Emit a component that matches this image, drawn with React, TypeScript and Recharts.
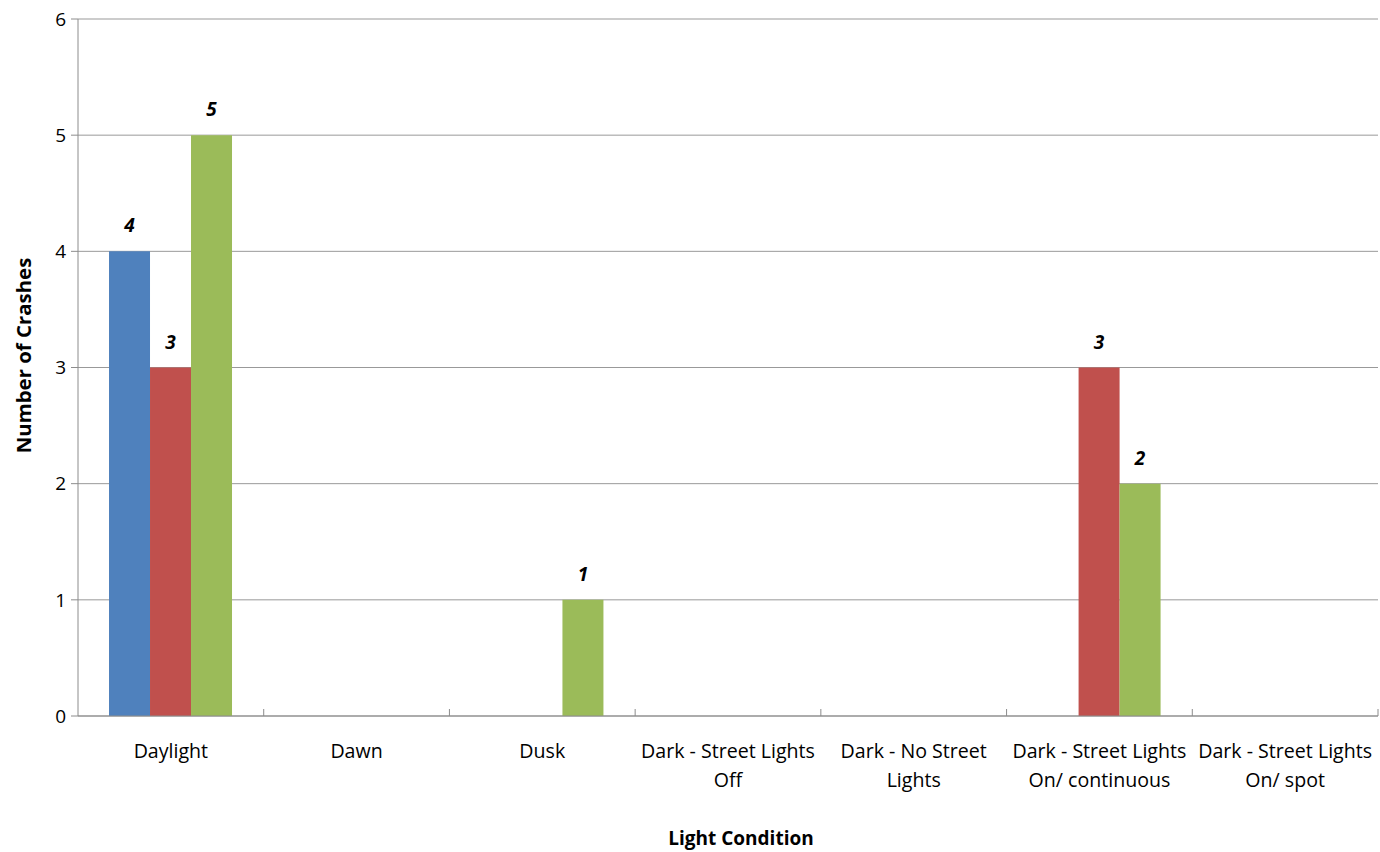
import React from 'react';
import { BarChart, Bar, XAxis, YAxis, CartesianGrid, LabelList } from 'recharts';

const categories = [
  'Daylight',
  'Dawn',
  'Dusk',
  'Dark - Street Lights\nOff',
  'Dark - No Street\nLights',
  'Dark - Street Lights\nOn/ continuous',
  'Dark - Street Lights\nOn/ spot',
];
const seriesNames = ['Series 1', 'Series 2', 'Series 3'];
const series1 = [4, 0, 0, 0, 0, 0, 0];
const series2 = [3, 0, 0, 0, 0, 3, 0];
const series3 = [5, 0, 1, 0, 0, 2, 0];
const yTicks = [0, 1, 2, 3, 4, 5, 6];
const colors = ['#4F81BD', '#C0504D', '#9BBB59'];

const data = categories.map((c, i) => ({
  category: c,
  s1: series1[i],
  s2: series2[i],
  s3: series3[i],
}));

const FONT = '"Open Sans", Lato, sans-serif';
const AXIS = '#8c8c8c';

const CategoryTick = (props: any) => {
  const { x, y, payload, width, visibleTicksCount } = props;
  const lines = String(payload.value).split('\n');
  const band = width && visibleTicksCount ? width / visibleTicksCount : 0;
  return (
    <g>
      {band > 0 && (
        <line x1={x + band / 2} x2={x + band / 2} y1={y - 7} y2={y} stroke={AXIS} strokeWidth={1} />
      )}
      {lines.map((l: string, i: number) => (
        <text
          key={i}
          x={x}
          y={y + 42 + i * 29}
          textAnchor="middle"
          fontFamily={FONT}
          fontSize={19.6}
          fill="#000"
        >
          {l}
        </text>
      ))}
    </g>
  );
};

const ValueLabel = (props: any) => {
  const { x, y, width, value } = props;
  if (!value) return null;
  return (
    <text
      x={x + width / 2}
      y={y - 19}
      textAnchor="middle"
      fontFamily={FONT}
      fontSize={19}
      fontWeight="bold"
      fontStyle="italic"
      fill="#000"
    >
      {value}
    </text>
  );
};

export default function App() {
  return (
    <div style={{ position: 'fixed', left: 0, top: 0, width: 1380, height: 852, background: '#fff', overflow: 'hidden' }}>
      <style>{`html,body{margin:0;padding:0;overflow:hidden;}`}</style>
      <BarChart
        width={1380}
        height={852}
        data={data}
        margin={{ top: 19, right: 2, bottom: 0, left: 0 }}
        barGap={0}
        barCategoryGap="16.7%"
      >
        <CartesianGrid vertical={false} stroke="#999" />
        <XAxis
          dataKey="category"
          height={136}
          interval={0}
          tickLine={false}
          tickSize={0}
          tickMargin={0}
          axisLine={{ stroke: AXIS }}
          tick={<CategoryTick />}
          label={{
            content: () => (
              <text
                x={741}
                y={845}
                textAnchor="middle"
                fontFamily={FONT}
                fontSize={19}
                fontWeight="bold"
                fill="#000"
              >
                Light Condition
              </text>
            ),
          }}
        />
        <YAxis
          width={78}
          domain={[0, 6]}
          ticks={yTicks}
          interval={0}
          tickSize={7}
          tickMargin={5}
          axisLine={{ stroke: AXIS }}
          tickLine={{ stroke: AXIS }}
          tick={{ fontFamily: FONT, fontSize: 19, fill: '#000' }}
          label={{
            content: (p: any) => {
              const vb = p.viewBox;
              const cy = vb.y + vb.height / 2 - 12;
              return (
                <text
                  x={31}
                  y={cy}
                  transform={`rotate(-90, 31, ${cy})`}
                  textAnchor="middle"
                  fontFamily={FONT}
                  fontSize={20.4}
                  fontWeight="bold"
                  fill="#000"
                >
                  Number of Crashes
                </text>
              );
            },
          }}
        />
        <Bar dataKey="s1" name={seriesNames[0]} fill={colors[0]} isAnimationActive={false}>
          <LabelList dataKey="s1" content={<ValueLabel />} />
        </Bar>
        <Bar dataKey="s2" name={seriesNames[1]} fill={colors[1]} isAnimationActive={false}>
          <LabelList dataKey="s2" content={<ValueLabel />} />
        </Bar>
        <Bar dataKey="s3" name={seriesNames[2]} fill={colors[2]} isAnimationActive={false}>
          <LabelList dataKey="s3" content={<ValueLabel />} />
        </Bar>
      </BarChart>
    </div>
  );
}
